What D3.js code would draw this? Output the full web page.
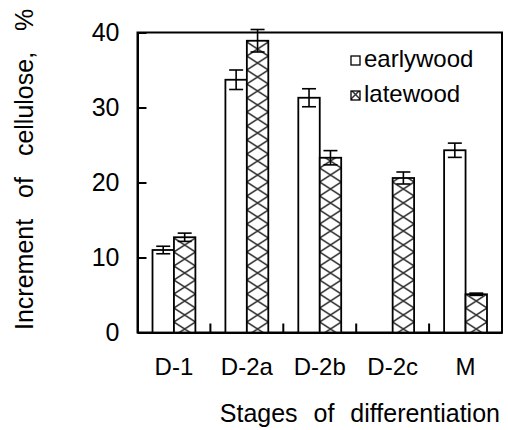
<!DOCTYPE html>
<html>
<head>
<meta charset="utf-8">
<script src="https://cdn.jsdelivr.net/npm/d3@7"></script>
<style>
  body { margin: 0; background: #fff; }
  text { font-family: Arial, "Liberation Sans", sans-serif; fill: #000; }
</style>
</head>
<body>
<svg id="chart" width="508" height="430"></svg>
<script>
// Cellulose increment by differentiation stage
const categories = ["D-1", "D-2a", "D-2b", "D-2c", "M"];
const series = ["earlywood", "latewood"];
const earlywood = [11.0, 33.7, 31.3, null, 24.3];
const earlywoodErr = [0.5, 1.3, 1.2, null, 0.95];
const latewood = [12.7, 38.9, 23.3, 20.6, 5.1];
const latewoodErr = [0.55, 1.5, 0.95, 0.8, 0.15];
const yTicks = [0, 10, 20, 30, 40];
const xTitle = "Stages of differentiation";
const yTitle = "Increment of cellulose, %";

const svg = d3.select("#chart");
const plot = { left: 137.5, right: 502, top: 32.5, bottom: 332.5 };

const x0 = d3.scaleBand().domain(categories).range([plot.left, plot.right]).padding(0);
const x1 = d3.scaleBand().domain(series).range([0, x0.bandwidth()]).paddingInner(0).paddingOuter(0.7);
const y = d3.scaleLinear().domain([0, 40]).range([plot.bottom, plot.top]);

const values = { earlywood, latewood };
const errors = { earlywood: earlywoodErr, latewood: latewoodErr };

const rows = [];
series.forEach(s => categories.forEach((c, i) => {
  if (values[s][i] != null) rows.push({ s, c, i, v: values[s][i], e: errors[s][i] });
}));

// hatch patterns: one per latewood bar, anchored to the bar's left edge
const defs = svg.append("defs");
function addHatch(id, px, w, h) {
  const p = defs.append("pattern")
    .attr("id", id).attr("patternUnits", "userSpaceOnUse")
    .attr("x", px).attr("y", 0).attr("width", w).attr("height", h);
  p.append("rect").attr("width", w).attr("height", h).attr("fill", "#fff");
  p.append("path")
    .attr("d", `M0,0L${w},${h}M${w},0L0,${h}`)
    .attr("stroke", "#333").attr("stroke-width", 1.5).attr("fill", "none");
}
rows.filter(r => r.s === "latewood").forEach(r => {
  addHatch("hatch-" + r.i, x0(r.c) + x1("latewood"), x1.bandwidth(), 14);
});

// frame
svg.append("rect")
  .attr("x", plot.left).attr("y", plot.top)
  .attr("width", plot.right - plot.left).attr("height", plot.bottom - plot.top)
  .attr("fill", "none").attr("stroke", "#000").attr("stroke-width", 2);

// bars
svg.append("g").selectAll("rect").data(rows).join("rect")
  .attr("x", d => x0(d.c) + x1(d.s))
  .attr("y", d => y(d.v))
  .attr("width", x1.bandwidth())
  .attr("height", d => y(0) - y(d.v))
  .attr("fill", d => d.s === "latewood" ? `url(#hatch-${d.i})` : "#fff")
  .attr("stroke", "#000").attr("stroke-width", 1.8);

// error bars
const eb = svg.append("g").attr("stroke", "#000").attr("stroke-width", 1.6);
rows.forEach(d => {
  const cx = x0(d.c) + x1(d.s) + x1.bandwidth() / 2;
  eb.append("line").attr("x1", cx).attr("x2", cx).attr("y1", y(d.v + d.e)).attr("y2", y(d.v - d.e));
  [d.v + d.e, d.v - d.e].forEach(v => {
    eb.append("line").attr("x1", cx - 7).attr("x2", cx + 7).attr("y1", y(v)).attr("y2", y(v));
  });
});

// y axis with inward ticks
const yAxis = svg.append("g")
  .attr("transform", `translate(${plot.left},0)`)
  .call(d3.axisLeft(y).tickValues(yTicks).tickSizeInner(-9).tickSizeOuter(0).tickPadding(18));
yAxis.select(".domain").attr("stroke-width", 2);
yAxis.selectAll(".tick line").attr("stroke-width", 2);
yAxis.selectAll("text").style("font-size", "25px").attr("fill", "#000");

// x axis: category labels at group centres
const xAxis = svg.append("g")
  .attr("transform", `translate(0,${plot.bottom})`)
  .call(d3.axisBottom(x0).tickSize(0).tickPadding(25));
xAxis.select(".domain").attr("stroke-width", 2);
xAxis.selectAll("text").style("font-size", "24px").attr("fill", "#000");

// group separators on the x axis, pointing up
svg.append("g").selectAll("line").data(categories.slice(1)).join("line")
  .attr("x1", d => x0(d)).attr("x2", d => x0(d))
  .attr("y1", plot.bottom).attr("y2", plot.bottom - 9)
  .attr("stroke", "#000").attr("stroke-width", 2);

// axis titles
svg.append("text")
  .attr("x", 500).attr("y", 422)
  .attr("text-anchor", "end")
  .attr("word-spacing", "9px")
  .style("font-size", "25px")
  .text(xTitle);

svg.append("text")
  .attr("transform", "translate(33,330) rotate(-90)")
  .attr("text-anchor", "start")
  .attr("word-spacing", "14px")
  .style("font-size", "25px")
  .text(yTitle);

// legend
const legend = svg.append("g");
addHatch("hatch-legend", 351, 9, 9);
series.forEach((s, k) => {
  const ly = 56 + k * 35;
  legend.append("rect")
    .attr("x", 351).attr("y", ly).attr("width", 9).attr("height", 9)
    .attr("fill", s === "latewood" ? "url(#hatch-legend)" : "#fff")
    .attr("stroke", "#000").attr("stroke-width", 1.3);
  legend.append("text")
    .attr("x", 364).attr("y", ly + 11)
    .style("font-size", "24px")
    .text(s);
});
</script>
</body>
</html>
